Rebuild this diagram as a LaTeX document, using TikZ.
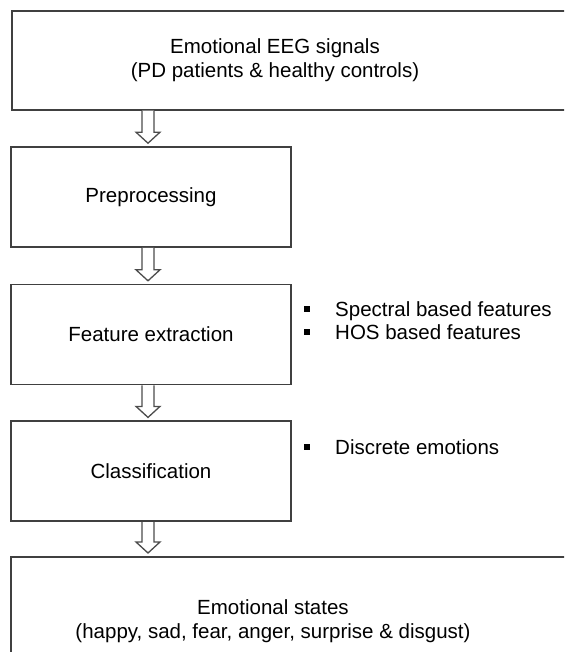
\documentclass[tikz,border=0pt]{standalone}
\usepackage{fontspec}
\setmainfont{Liberation Sans}
\usetikzlibrary{positioning,calc}
\tikzset{>=latex}

% square item mark for the side notes
\newcommand{\sqbullet}{\rule[4pt]{6pt}{6pt}\hspace{25pt}}
% hollow block arrow from one box down to the next
\newcommand{\hollowarrow}[2]{%
  \draw[hollow] ($(#1.south -| col)+(-6,0)$) -- ($(#2.north -| col)+(-6,14)$)
    -- ($(#2.north -| col)+(-12,14)$) -- ($(#2.north -| col)+(0,3)$)
    -- ($(#2.north -| col)+(12,14)$) -- ($(#2.north -| col)+(6,14)$)
    -- ($(#1.south -| col)+(6,0)$);}

\begin{document}
\begin{tikzpicture}[x=1pt, y=1pt, font=\fontsize{20.5}{24.5}\selectfont]
  \tikzstyle{stage}=[draw=black!75, line width=1.6pt, minimum width=280pt, minimum height=100pt, align=center]
  \tikzstyle{widebox}=[draw=black!75, line width=1.6pt, anchor=north west, minimum width=590pt]
  \tikzstyle{notes}=[anchor=base west, inner sep=0pt]
  \tikzstyle{hollow}=[draw=black!70, line width=1.3pt, fill=white, line join=miter]
  \path[use as bounding box, clip] (0,0) rectangle (564,-652);

  \coordinate (col) at (148,0);

  \node[widebox, minimum height=99pt] (eeg) at (11,-10) {};
  \node[align=center] (eegtext) at (275,-60) {Emotional EEG signals\\(PD patients \& healthy controls)};

  \node[stage] (pre) at (151,-197) {Preprocessing};
  \node[stage, below=36pt of pre] (feat) {Feature extraction};
  \node[stage, below=35pt of feat] (cls) {Classification};

  \node[widebox, minimum height=130pt] (states) at (10,-556) {};
  \node[align=center] (statestext) at (273,-621) {Emotional states\\(happy, sad, fear, anger, surprise \& disgust)};

  \node[notes] (spec) at (304,-316) {\sqbullet Spectral based features};
  \node[notes] (hos) at (304,-339) {\sqbullet HOS based features};
  \node[notes] (disc) at (304,-454) {\sqbullet Discrete emotions};

  \hollowarrow{eeg}{pre}
  \hollowarrow{pre}{feat}
  \hollowarrow{feat}{cls}
  \hollowarrow{cls}{states}
\end{tikzpicture}
\end{document}
